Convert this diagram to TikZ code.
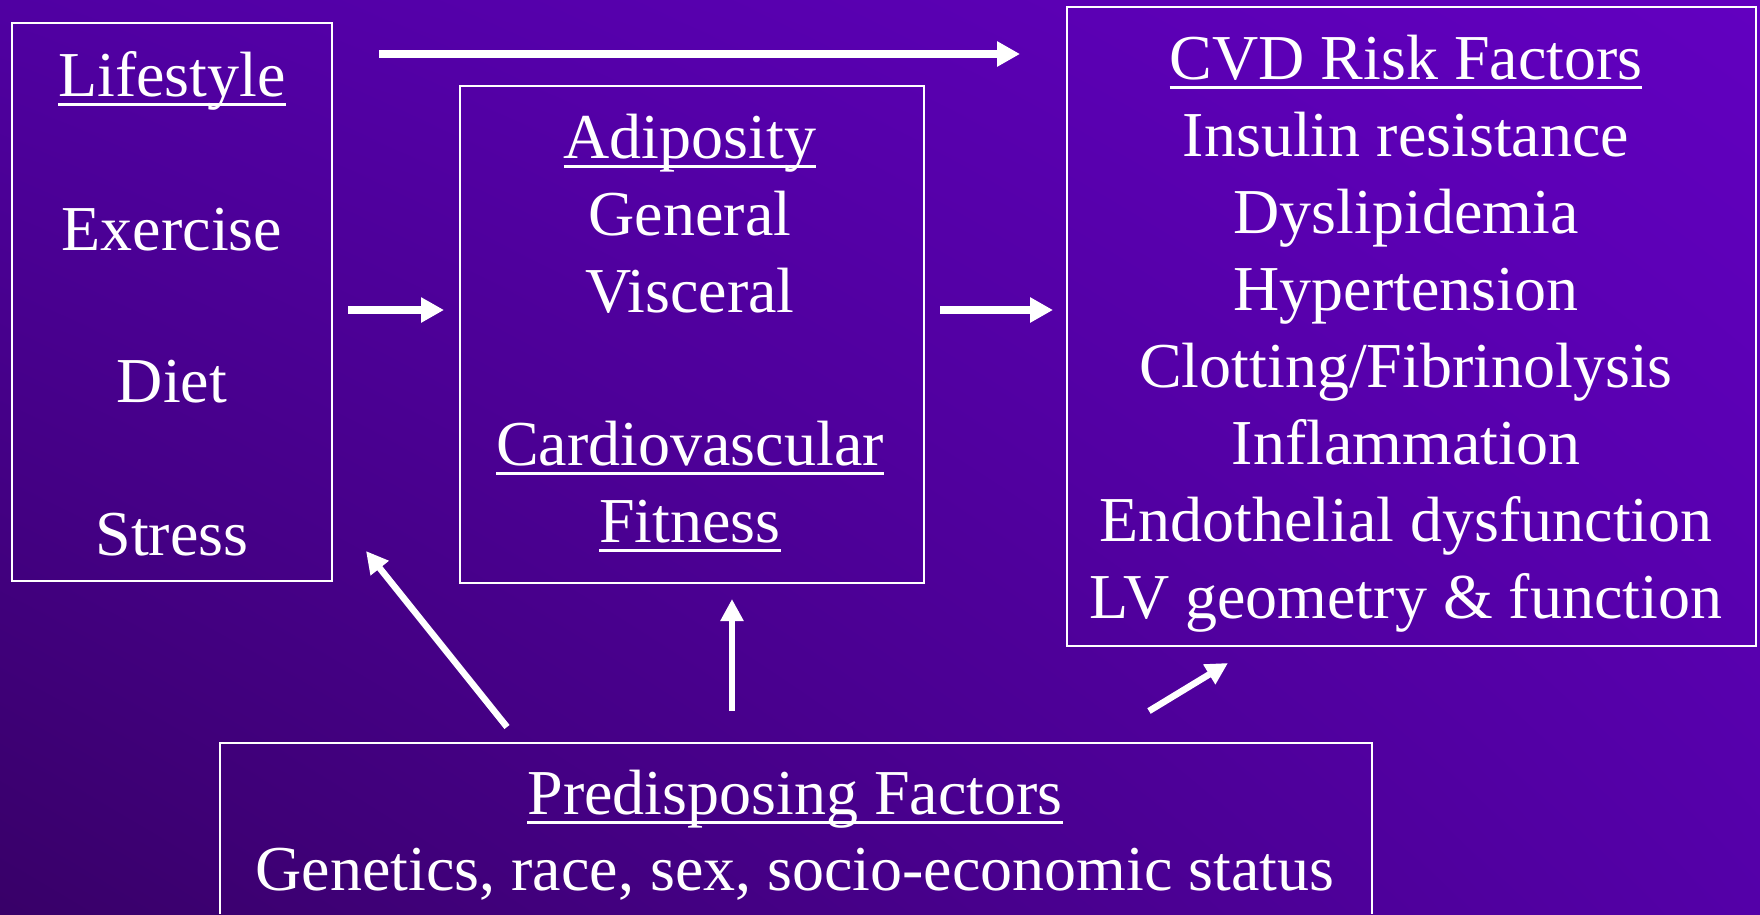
\documentclass[tikz,border=0pt]{standalone}
\usepackage{fontspec}
\setmainfont{Liberation Serif}
\usetikzlibrary{arrows.meta,shadings}
\definecolor{bgtl}{RGB}{80,0,162}
\definecolor{bgtr}{RGB}{98,0,192}
\definecolor{bgbl}{RGB}{56,0,104}
\definecolor{bgbr}{RGB}{84,0,168}
\newcommand{\ulx}[1]{\setbox0\hbox{#1}\rlap{\rule[-10pt]{\wd0}{3.5pt}}\box0}
\tikzset{
  boxnode/.style={draw=white, line width=2pt, inner sep=0pt},
  txt/.style={text=white, font=\fontsize{64}{77}\selectfont, anchor=base, inner sep=0pt},
  arr/.style={draw=white, line width=8pt, -{Triangle[length=23pt,width=24pt]}},
  arrthin/.style={draw=white, line width=6.5pt, -{Triangle[length=22pt,width=22pt]}}
}
\begin{document}
\begin{tikzpicture}[x=1pt,y=-1pt]
\useasboundingbox (0,0) rectangle (1760,914);
\shade[upper left=bgtl, upper right=bgtr, lower left=bgbl, lower right=bgbr] (0,0) rectangle (1760,914);

% boxes
\node[boxnode, minimum width=320pt, minimum height=558pt] (life) at (172,302) {};
\node[boxnode, minimum width=464pt, minimum height=497pt] (adi) at (692,334.5) {};
\node[boxnode, minimum width=689pt, minimum height=639pt] (cvd) at (1411.5,326.5) {};
\node[inner sep=0pt, minimum width=1152pt, minimum height=171pt] (pre) at (796,828.5) {};
\draw[white, line width=2pt] (pre.south west) -- (pre.north west) -- (pre.north east) -- (pre.south east);

% Lifestyle text
\node[txt] (l1) at (172,96) {\ulx{Lifestyle}};
\node[txt] (l2) at (172,250) {Exercise};
\node[txt] (l3) at (172,402) {Diet};
\node[txt] (l4) at (172,555) {Stress};

% Adiposity text
\node[txt] (a1) at (690,158) {\ulx{Adiposity}};
\node[txt] (a2) at (690,235) {General};
\node[txt] (a3) at (690,312) {Visceral};
\node[txt] (a4) at (690,465) {\ulx{Cardiovascular}};
\node[txt] (a5) at (690,542) {\ulx{Fitness}};

% CVD text
\node[txt] (c1) at (1406,79) {\ulx{CVD Risk Factors}};
\node[txt] (c2) at (1406,156) {Insulin resistance};
\node[txt] (c3) at (1406,233) {Dyslipidemia};
\node[txt] (c4) at (1406,310) {Hypertension};
\node[txt] (c5) at (1406,387) {Clotting/Fibrinolysis};
\node[txt] (c6) at (1406,464) {Inflammation};
\node[txt] (c7) at (1406,541) {Endothelial dysfunction};
\node[txt] (c8) at (1406,618) {LV geometry \& function};

% Predisposing text
\node[txt] (p1) at (795,814) {\ulx{Predisposing Factors}};
\node[txt] (p2) at (795,890) {Genetics, race, sex, socio-economic status};

% arrow end points
\coordinate (ta) at (379,54);
\coordinate (tb) at (1020,54);
\coordinate (la) at (348,310);
\coordinate (lb) at (444,310);
\coordinate (aa) at (940,310);
\coordinate (ab) at (1053,310);
\coordinate (pa) at (507,727);
\coordinate (pb) at (366,551);
\coordinate (va) at (732,711);
\coordinate (vb) at (732,599);
\coordinate (da) at (1149,711);
\coordinate (db) at (1228,663);

\draw[arr] (ta) -- (tb);
\draw[arr] (la) -- (lb);
\draw[arr] (aa) -- (ab);
\draw[arrthin] (pa) -- (pb);
\draw[arrthin] (va) -- (vb);
\draw[arrthin] (da) -- (db);
\end{tikzpicture}
\end{document}
